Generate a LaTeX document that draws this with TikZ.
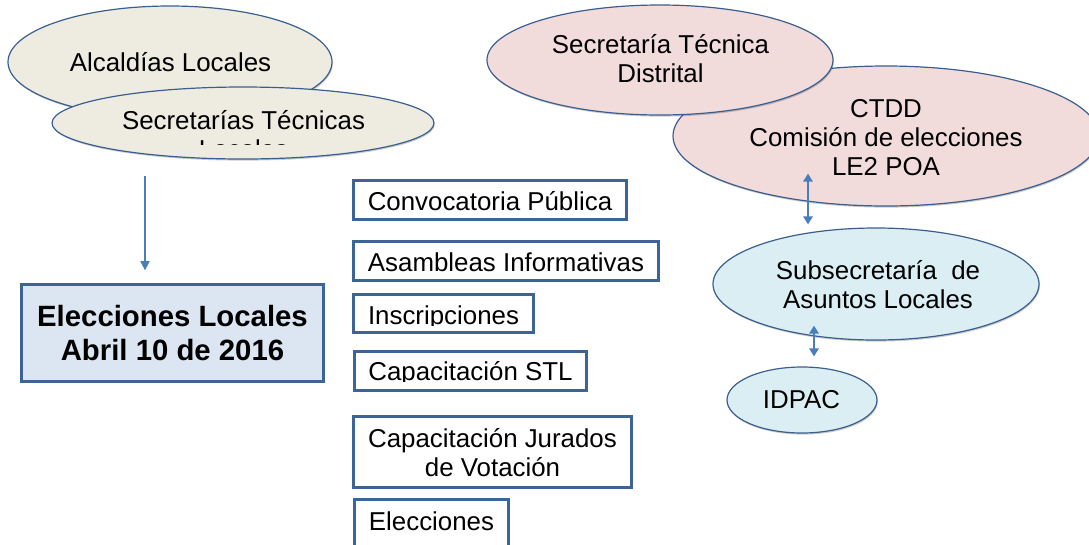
\documentclass[tikz,border=0pt]{standalone}
\usepackage{fontspec}
\setmainfont{Liberation Sans}
\usetikzlibrary{arrows.meta,calc,shapes.geometric,shadows}
\definecolor{beigefill}{HTML}{EEECE1}
\definecolor{pinkfill}{HTML}{F2DCDB}
\definecolor{aquafill}{HTML}{DBEEF4}
\definecolor{boxfill}{HTML}{DCE6F2}
\definecolor{edgeblue}{HTML}{3A5F8F}
\definecolor{boxblue}{HTML}{3D6496}
\definecolor{arrowblue}{HTML}{4A7EBB}
\begin{document}
\begin{tikzpicture}[x=0.75pt,y=-0.75pt,
  ell/.style={ellipse, draw=edgeblue, line width=0.9pt, inner sep=0pt,
    drop shadow={shadow xshift=0.6pt, shadow yshift=-1.2pt, opacity=0.2, fill=black}},
  txt/.style={align=center, anchor=base, inner sep=0pt,
    font=\fontsize{19.4pt}{21.75pt}\selectfont},
  boldtxt/.style={align=center, anchor=base, inner sep=0pt,
    font=\fontsize{22pt}{25.5pt}\selectfont\bfseries},
  stepbox/.style={rectangle, draw=boxblue, line width=2.25pt, fill=white, inner sep=0pt},
  link/.style={draw=arrowblue, line width=1.2pt, -{Triangle[width=6.75pt,length=7pt]}},
  dbl/.style={draw=arrowblue, line width=1.5pt,
    {Triangle[width=7pt,length=6pt]}-{Triangle[width=7pt,length=6pt]}},
]
\useasboundingbox (0,0) rectangle (1089,544);

% ---- left ellipses
\node[ell, fill=beigefill, minimum width=243pt, minimum height=84pt] (alc) at (170,62) {};
\node[txt] (alct) at (170.5,71.5) {Alcaldías Locales};
\node[ell, fill=beigefill, minimum width=286.5pt, minimum height=54pt] (sec) at (243,123) {};
\begin{scope}
  \clip (0,0) rectangle (1089,144.5);
  \node[txt] (sect) at (243.5,158.5) {Secretarías Técnicas\\Locales};
\end{scope}

% ---- main box
\node[rectangle, draw=boxblue, fill=boxfill, line width=2.25pt, inner sep=0pt,
      minimum width=226.5pt, minimum height=72.75pt] (elec) at (172.5,333) {};
\node[boldtxt] (elect) at (172.5,360) {Elecciones Locales\\Abril 10 de 2016};

\draw[link] ($(sec.south)+(-98,16)$) -- ($(elec.north)+(-27.5,-12.5)$);

% ---- step boxes
\node[stepbox, minimum width=204.75pt, minimum height=29.25pt] (conv) at (490,200) {};
\node[txt] (convt) at (490,210) {Convocatoria Pública};
\node[stepbox, minimum width=228.75pt, minimum height=29.25pt] (asam) at (506,261) {};
\node[txt] (asamt) at (506,271.5) {Asambleas Informativas};
\node[stepbox, minimum width=135pt, minimum height=28.5pt] (insc) at (443.5,313.5) {};
\begin{scope}
  \clip (352,290) rectangle (540,325);
  \node[txt] (insct) at (443.5,324) {Inscripciones};
\end{scope}
\node[stepbox, minimum width=174pt, minimum height=29.25pt] (capstl) at (470.5,371) {};
\begin{scope}
  \clip (352,345) rectangle (590,381.5);
  \node[txt] (capstlt) at (470.5,380.7) {Capacitación STL};
\end{scope}
\node[stepbox, minimum width=208.5pt, minimum height=53.25pt] (capjur) at (492.5,452) {};
\node[txt] (capjurt) at (492.5,476) {Capacitación Jurados\\de Votación};
\node[stepbox, minimum width=115.5pt, minimum height=35.25pt] (elecc) at (431.5,523) {};
\node[txt] (eleczt) at (431.5,530) {Elecciones};

% ---- right ellipses
\node[ell, fill=pinkfill, minimum width=319.5pt, minimum height=105pt] (ctdd) at (886,136) {};
\node[ell, fill=pinkfill, minimum width=259.5pt, minimum height=82.5pt] (std) at (660,60) {};
\node[txt] (ctddt) at (886,175.7) {CTDD\\Comisión de elecciones\\LE2 POA};
\node[txt] (stdt) at (660.5,82.7) {Secretaría Técnica\\Distrital};
\node[ell, fill=aquafill, minimum width=244.5pt, minimum height=84pt] (sub) at (876,284) {};
\node[txt] (subt) at (878,308) {Subsecretaría \ de\\Asuntos Locales};
\node[ell, fill=aquafill, minimum width=112.5pt, minimum height=49.5pt] (idpac) at (802,400) {};
\node[txt] (idpact) at (801.5,408) {IDPAC};

\draw[dbl] ($(ctdd.south)+(-78,-33)$) -- ($(sub.north)+(-68,-3)$);
\draw[dbl] ($(sub.south)+(-62,-15)$) -- ($(idpac.north)+(12,-10)$);
\end{tikzpicture}
\end{document}
